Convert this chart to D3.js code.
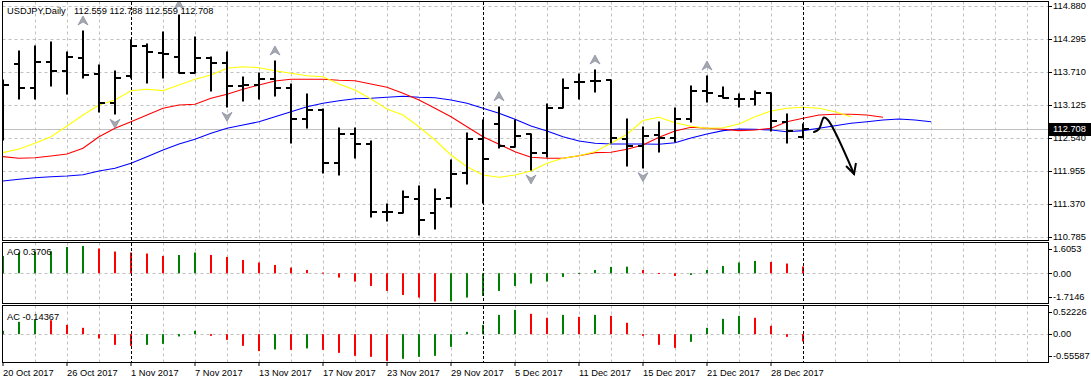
<!DOCTYPE html>
<html><head><meta charset="utf-8">
<script src="https://cdn.jsdelivr.net/npm/d3@7"></script>
<style>
html,body{margin:0;padding:0;background:#fff;overflow:hidden}
svg{display:block;font-family:'Liberation Sans',Arial,sans-serif;font-size:9.3px}
</style></head><body>
<svg id="c" width="1091" height="384"></svg>
<script>
// ---------- data ----------
const symbol = "USDJPY,Daily";
const dates = ["2017-10-20","2017-10-23","2017-10-24","2017-10-25","2017-10-26","2017-10-27","2017-10-30","2017-10-31",
"2017-11-01","2017-11-02","2017-11-03","2017-11-06","2017-11-07","2017-11-08","2017-11-09","2017-11-10","2017-11-13","2017-11-14",
"2017-11-15","2017-11-16","2017-11-17","2017-11-20","2017-11-21","2017-11-22","2017-11-23","2017-11-24","2017-11-27","2017-11-28",
"2017-11-29","2017-11-30","2017-12-01","2017-12-04","2017-12-05","2017-12-06","2017-12-07","2017-12-08","2017-12-11","2017-12-12",
"2017-12-13","2017-12-14","2017-12-15","2017-12-18","2017-12-19","2017-12-20","2017-12-21","2017-12-22","2017-12-26","2017-12-27",
"2017-12-28","2017-12-29","2018-01-02"];
const open = [113.400,113.847,113.432,113.882,113.733,113.953,113.675,113.166,113.639,114.171,
114.052,113.981,113.698,113.963,113.875,113.462,113.480,113.581,113.432,112.872,
113.036,112.102,112.606,112.434,111.223,111.205,111.459,111.216,111.471,111.914,
112.517,112.783,112.386,112.606,112.279,113.067,113.527,113.550,113.568,112.517,
112.398,112.593,112.535,112.877,113.373,113.285,113.226,113.226,113.332,112.829,112.559];
const high = [113.568,114.082,114.176,114.237,114.059,114.437,113.834,113.728,114.277,114.201,
114.414,114.720,114.336,113.981,114.059,113.616,113.698,113.905,113.492,113.315,
113.049,112.712,112.712,112.487,111.365,111.606,111.689,111.631,112.150,112.634,
112.859,113.095,112.859,112.606,113.137,113.586,113.675,113.745,113.568,112.877,
112.740,112.818,113.067,113.462,113.639,113.449,113.320,113.373,113.332,112.966,112.788];
const low = [112.505,113.226,113.231,113.467,113.325,113.609,113.006,112.960,113.598,113.520,
113.609,113.698,113.698,113.379,113.084,113.201,113.226,113.290,112.457,112.723,
111.925,111.884,112.180,111.134,111.069,111.205,110.821,110.922,111.322,111.719,
111.383,112.357,112.386,111.973,112.198,113.067,113.231,113.361,112.457,112.049,
112.014,112.297,112.474,112.829,113.184,113.244,113.095,113.125,112.664,112.457,112.559];
const close = [113.480,113.432,113.882,113.733,113.971,113.657,113.166,113.609,114.171,114.070,
114.034,113.698,113.963,113.875,113.462,113.480,113.581,113.432,112.872,113.036,
112.102,112.606,112.434,111.223,111.223,111.500,111.086,111.453,111.897,112.517,
112.168,112.404,112.581,112.279,113.067,113.432,113.527,113.550,112.535,112.398,
112.576,112.535,112.872,113.379,113.343,113.254,113.226,113.332,112.847,112.664,112.708];
// Alligator lines (shifted forward past the last bar)
const lips = [112.280,112.345,112.446,112.563,112.753,112.948,113.125,113.214,113.379,113.403,
113.379,113.480,113.581,113.657,113.776,113.804,113.786,113.733,113.687,113.644,
113.627,113.497,113.391,113.231,113.054,112.948,112.740,112.505,112.239,112.031,
111.884,111.843,111.884,111.955,112.092,112.180,112.226,112.297,112.446,112.606,
112.850,112.907,112.811,112.748,112.712,112.723,112.788,112.918,113.019,113.067,
113.084,113.067,113.006,112.918];
const teeth = [112.209,112.180,112.191,112.221,112.256,112.358,112.563,112.712,112.829,112.948,
113.067,113.125,113.138,113.244,113.315,113.403,113.480,113.551,113.581,113.581,
113.581,113.563,113.556,113.497,113.439,113.333,113.214,113.067,112.918,112.740,
112.563,112.428,112.297,112.198,112.180,112.180,112.226,112.280,112.287,112.340,
112.416,112.552,112.664,112.730,112.712,112.694,112.670,112.682,112.712,112.829,
112.889,112.948,112.960,112.960,112.948,112.907];
const jaw = [111.778,111.808,111.836,111.854,111.866,111.889,111.955,112.003,112.092,112.209,
112.327,112.434,112.517,112.623,112.712,112.770,112.829,112.918,113.006,113.095,
113.155,113.201,113.237,113.244,113.262,113.279,113.262,113.254,113.214,113.155,
113.067,112.978,112.872,112.753,112.664,112.563,112.487,112.446,112.434,112.434,
112.434,112.428,112.457,112.540,112.611,112.670,112.700,112.694,112.682,112.652,
112.670,112.712,112.758,112.801,112.829,112.859,112.877,112.859,112.829];
const fractalUp = [5,11,17,31,37,44];
const fractalDown = [7,14,26,33,40];
const ao = [0.950,1.136,1.191,1.210,1.443,1.498,1.356,1.191,1.136,1.081,
0.950,1.004,1.136,1.004,0.895,0.730,0.587,0.456,0.313,0.181,
0.038,-0.236,-0.456,-0.697,-0.971,-1.191,-1.334,-1.553,-1.540,-1.334,
-1.246,-0.971,-0.697,-0.565,-0.456,-0.203,0.020,0.181,0.346,0.360,
0.181,0.016,-0.148,-0.093,0.181,0.401,0.587,0.675,0.620,0.532,0.3706];
const ac = [0.065,0.241,0.280,0.272,0.182,0.124,-0.084,-0.210,-0.229,-0.210,
-0.190,-0.045,0.065,-0.033,-0.112,-0.229,-0.333,-0.300,-0.308,-0.280,
-0.308,-0.367,-0.425,-0.445,-0.524,-0.484,-0.445,-0.425,-0.249,0.045,
0.182,0.378,0.476,0.398,0.320,0.378,0.339,0.378,0.359,0.222,
-0.033,-0.210,-0.269,-0.151,0.124,0.300,0.359,0.320,0.163,-0.053,-0.14367];
const priceTicks = [114.880,114.295,113.710,113.125,112.540,111.955,111.370,110.785];
const aoTicks = [1.6053,0,-1.7146];
const acTicks = [0.52226,0,-0.55587];
// hand-drawn forecast arrow, in (bar index, price)
const arrowCurve = [[50.69,112.646],[51.0,112.700],[51.31,112.903],[51.56,112.859],[53.19,111.902]];
const arrowHead = [[52.69,112.044],[53.19,111.902],[53.31,112.097]];

// ---------- layout ----------
const svg = d3.select("#c");
const L = 2.5, R = 1048.5;
const P = {
  main:{top:1.5,bottom:240.5},
  ao:{top:242.5,bottom:303.5},
  ac:{top:305.5,bottom:362.5}
};
const x = d3.scaleLinear().domain([0,1]).range([3,19]);
const y = d3.scaleLinear().domain([110.785,114.880]).range([237,6]);
const yAO = d3.scaleLinear().domain([-1.7146,1.6053]).range([304.5,244]);
const yAC = d3.scaleLinear().domain([-0.55587,0.52226]).range([362.5,307.5]);
const parse = d3.timeParse("%Y-%m-%d");
const fmtDate = d3.timeFormat("%-d %b %Y");
const dts = dates.map(parse);
const GRID = "#c0c0c0";
const snap = v => Math.round(v) + 0.5;

const defs = svg.append("defs");
Object.entries(P).forEach(([k,p])=>{
  defs.append("clipPath").attr("id","clip-"+k).append("rect")
    .attr("x",L+0.5).attr("y",p.top+0.5).attr("width",R-L-1).attr("height",p.bottom-p.top-1);
});

// grid indices: every 2 bars across the whole width
const gridIdx = d3.range(2, 66, 2).filter(i => x(i) < R-2);
const sepIdx = dts.map((d,i)=> i>0 && d.getMonth()!==dts[i-1].getMonth() ? i : -1).filter(i=>i>=0);

function panelGrid(p, clipId){
  const g = svg.append("g").attr("clip-path",`url(#${clipId})`);
  g.selectAll("line.v").data(gridIdx.filter(i=>!sepIdx.includes(i))).enter().append("line")
    .attr("x1",i=>snap(x(i))).attr("x2",i=>snap(x(i))).attr("y1",p.top).attr("y2",p.bottom)
    .attr("stroke",GRID).attr("stroke-dasharray","3,3");
  return g;
}
function separators(p){
  svg.append("g").selectAll("line").data(sepIdx).enter().append("line")
    .attr("x1",i=>snap(x(i))).attr("x2",i=>snap(x(i))).attr("y1",p.top+0.5).attr("y2",p.bottom-0.5)
    .attr("stroke","#000").attr("stroke-dasharray","3,2");
}

// ---------- main panel ----------
const gm = panelGrid(P.main,"clip-main");
gm.selectAll("line.h").data(priceTicks).enter().append("line")
  .attr("x1",L).attr("x2",R).attr("y1",d=>snap(y(d))).attr("y2",d=>snap(y(d)))
  .attr("stroke",GRID).attr("stroke-dasharray","3,3");
separators(P.main);
const last = close[close.length-1];
gm.append("line").attr("x1",L).attr("x2",R).attr("y1",snap(y(last))).attr("y2",snap(y(last)))
  .attr("stroke","#c0c0c0");

const line = d3.line().x((d,i)=>x(i)).y(d=>y(d));
[[jaw,"#0000ff"],[teeth,"#ff0000"],[lips,"#ffff00"]].forEach(([s,c])=>{
  gm.append("path").attr("d",line(s)).attr("fill","none").attr("stroke",c).attr("stroke-width",1.1);
});

const bars = gm.append("g").attr("stroke","#000").attr("stroke-width",2);
close.forEach((c,i)=>{
  const cx = x(i);
  bars.append("line").attr("x1",cx).attr("x2",cx).attr("y1",Math.round(y(high[i]))-0.5).attr("y2",Math.round(y(low[i]))+0.5);
  bars.append("line").attr("x1",cx-5).attr("x2",cx).attr("y1",Math.round(y(open[i]))).attr("y2",Math.round(y(open[i])));
  bars.append("line").attr("x1",cx).attr("x2",cx+6).attr("y1",Math.round(y(c))).attr("y2",Math.round(y(c)));
});

// fractals
const fr = gm.append("g").attr("fill","#a8a8a8").attr("stroke","#7f8aa8").attr("stroke-width",0.7);
fractalUp.forEach(i=>{
  const cx=x(i), cy=y(high[i])-10;
  fr.append("path").attr("d",`M${cx},${cy-5} L${cx+5},${cy+4} L${cx},${cy+1} L${cx-5},${cy+4} Z`);
});
fractalDown.forEach(i=>{
  const cx=x(i), cy=y(low[i])+9;
  fr.append("path").attr("d",`M${cx},${cy+5} L${cx+5},${cy-4} L${cx},${cy-1} L${cx-5},${cy-4} Z`);
});

// forecast arrow
const aLine = d3.line().x(d=>x(d[0])).y(d=>y(d[1]));
gm.append("path").attr("d",aLine.curve(d3.curveCatmullRom)(arrowCurve)).attr("fill","none")
  .attr("stroke","#000").attr("stroke-width",2).attr("stroke-linecap","round");
gm.append("path").attr("d",d3.line().x(d=>x(d[0])).y(d=>y(d[1]))(arrowHead)).attr("fill","none")
  .attr("stroke","#000").attr("stroke-width",2).attr("stroke-linejoin","miter");

// title
svg.append("text").attr("x",7).attr("y",14).text(symbol);
svg.append("text").attr("x",74).attr("y",14)
  .text([open,high,low,close].map(a=>a[a.length-1].toFixed(3)).join(" "));

// ---------- AO panel ----------
const ga = panelGrid(P.ao,"clip-ao");
ga.append("line").attr("x1",L).attr("x2",R).attr("y1",snap(yAO(0))).attr("y2",snap(yAO(0)))
  .attr("stroke",GRID).attr("stroke-dasharray","3,3");
separators(P.ao);
ga.selectAll("rect.b").data(ao).enter().append("rect")
  .attr("x",(d,i)=>x(i)-1).attr("width",2)
  .attr("y",d=>Math.min(yAO(d),yAO(0))).attr("height",d=>Math.max(1,Math.abs(yAO(d)-yAO(0))))
  .attr("fill",(d,i)=> i===0 || d>ao[i-1] ? "#008000" : "#ff0000");
svg.append("text").attr("x",7).attr("y",255).text("AO " + ao[ao.length-1].toFixed(4));

// ---------- AC panel ----------
const gc = panelGrid(P.ac,"clip-ac");
gc.append("line").attr("x1",L).attr("x2",R).attr("y1",snap(yAC(0))).attr("y2",snap(yAC(0)))
  .attr("stroke",GRID).attr("stroke-dasharray","3,3");
separators(P.ac);
gc.selectAll("rect.b").data(ac).enter().append("rect")
  .attr("x",(d,i)=>x(i)-1).attr("width",2)
  .attr("y",d=>Math.min(yAC(d),yAC(0))).attr("height",d=>Math.max(1,Math.abs(yAC(d)-yAC(0))))
  .attr("fill",(d,i)=> i===0 || d>ac[i-1] ? "#008000" : "#ff0000");
svg.append("text").attr("x",7).attr("y",320).text("AC " + ac[ac.length-1].toFixed(5));

// ---------- frames ----------
Object.values(P).forEach(p=>{
  svg.append("rect").attr("x",L).attr("y",p.top).attr("width",R-L).attr("height",p.bottom-p.top)
    .attr("fill","none").attr("stroke","#000");
});

// ---------- right axes ----------
function rightAxis(ticks, sc, p, fmt){
  const g = svg.append("g");
  ticks.forEach(v=>{
    let yy = sc(v);
    yy = Math.max(p.top+6, Math.min(p.bottom-6.5, yy));
    g.append("line").attr("x1",R).attr("x2",R+3.5).attr("y1",snap(yy)).attr("y2",snap(yy)).attr("stroke","#000");
    g.append("text").attr("x",R+4.5).attr("y",yy).attr("dy","0.35em").text(fmt(v));
  });
}
rightAxis(priceTicks, y, {top:-10,bottom:250}, d=>d.toFixed(3));
rightAxis(aoTicks, yAO, P.ao, d=> d===0 ? "0.00" : d.toFixed(4));
rightAxis(acTicks, yAC, P.ac, d=> d===0 ? "0.00" : d.toFixed(5));
// current price box
const ly = y(last);
svg.append("rect").attr("x",R+0.5).attr("y",Math.round(ly)-6).attr("width",1091-R).attr("height",13).attr("fill","#000");
svg.append("text").attr("x",R+4.5).attr("y",ly).attr("dy","0.35em").attr("fill","#fff").text(last.toFixed(3));

// ---------- x axis ----------
const xt = svg.append("g");
d3.range(0, dates.length, 4).forEach(i=>{
  xt.append("line").attr("x1",snap(x(i))-0.5).attr("x2",snap(x(i))-0.5).attr("y1",P.ac.bottom).attr("y2",P.ac.bottom+3.5).attr("stroke","#000");
  xt.append("text").attr("x",x(i)).attr("y",376).text(fmtDate(dts[i]));
});
</script>
</body></html>
